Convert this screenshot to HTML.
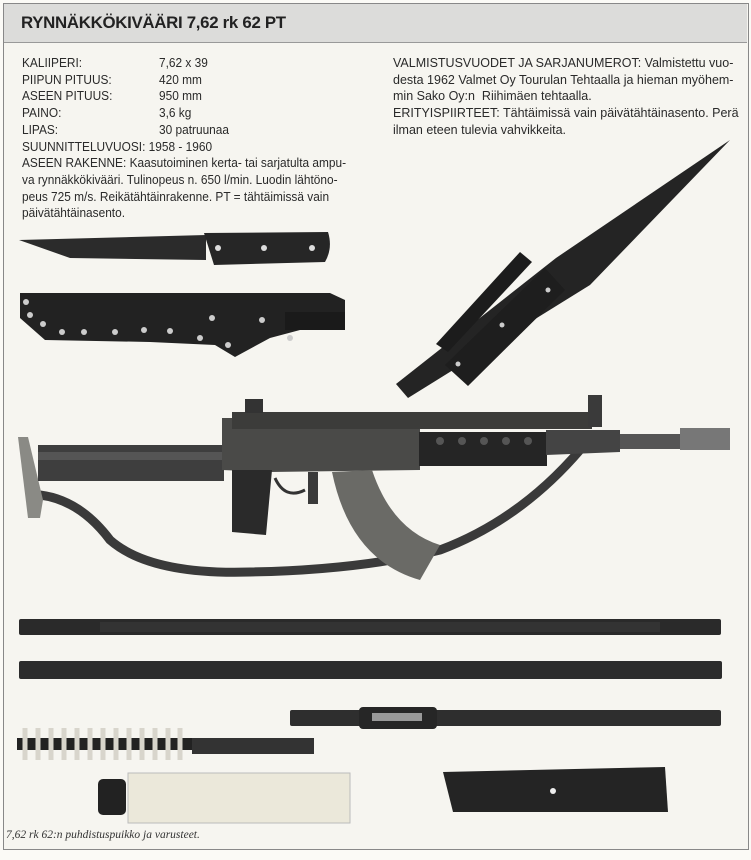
<!DOCTYPE html>
<html><head><meta charset="utf-8"><style>
html,body{margin:0;padding:0;background:#fbfaf6;}
body{width:751px;height:860px;position:relative;overflow:hidden;font-family:"Liberation Sans",sans-serif;color:#222;}
.frame{position:absolute;left:3px;top:3px;width:744px;height:845px;border:1px solid #888;background:#f6f5f0;}
.hdr{position:absolute;left:4px;top:4px;width:743px;height:38px;background:#dcdcda;border-bottom:1px solid #999;}
.hdr span{position:absolute;left:17px;top:9px;font-weight:bold;font-size:17px;letter-spacing:-0.3px;transform:scaleX(0.99);transform-origin:left;color:#222;white-space:nowrap;}
.t{position:absolute;font-size:12.5px;line-height:16.7px;white-space:nowrap;transform:scaleX(0.95);transform-origin:left top;color:#2a2a2a;}
.cap{position:absolute;left:6px;top:829px;font-family:"Liberation Serif",serif;font-style:italic;font-size:11.5px;color:#333;}
svg{position:absolute;left:0;top:0;}
</style></head><body>
<div class="frame"></div>
<div class="hdr"><span>RYNNÄKKÖKIVÄÄRI 7,62 rk 62 PT</span></div>
<div class="t" style="left:22px;top:55px;">KALIIPERI:<br>PIIPUN PITUUS:<br>ASEEN PITUUS:<br>PAINO:<br>LIPAS:<br>SUUNNITTELUVUOSI: 1958 - 1960<br>ASEEN RAKENNE: Kaasutoiminen kerta- tai sarjatulta ampu-<br>va rynnäkkökivääri. Tulinopeus n. 650 l/min. Luodin lähtöno-<br>peus 725 m/s. Reikätähtäinrakenne. PT = tähtäimissä vain<br>päivätähtäinasento.</div>
<div class="t" style="left:159px;top:55px;">7,62 x 39<br>420 mm<br>950 mm<br>3,6 kg<br>30 patruunaa</div>
<div class="t" style="left:393px;top:55px;transform:scaleX(1.0);">VALMISTUSVUODET JA SARJANUMEROT: Valmistettu vuo-<br>desta 1962 Valmet Oy Tourulan Tehtaalla ja hieman myöhem-<br>min Sako Oy:n&nbsp; Riihimäen tehtaalla.<br>ERITYISPIIRTEET: Tähtäimissä vain päivätähtäinasento. Perä<br>ilman eteen tulevia vahvikkeita.</div>
<svg width="751" height="860" viewBox="0 0 751 860">
<!-- knife -->
<path d="M19,240 L206,235 L206,260 L70,258 Z" fill="#2b2b2b"/>
<path d="M204,233 L328,232 Q333,248 325,262 L214,265 Z" fill="#262626"/>
<g fill="#ddd"><circle cx="218" cy="248" r="3"/><circle cx="264" cy="248" r="3"/><circle cx="312" cy="248" r="3"/></g>
<!-- sheath -->
<path d="M20,293 L330,293 L345,300 L345,330 L300,330 L270,338 L235,357 L215,345 L150,342 L45,340 L20,318 Z" fill="#222"/>
<path d="M285,312 L345,312 L345,330 L285,330 Z" fill="#1a1a1a"/>
<g fill="#ccc"><circle cx="26" cy="302" r="3"/><circle cx="30" cy="315" r="3"/><circle cx="43" cy="324" r="3"/><circle cx="62" cy="332" r="3"/><circle cx="84" cy="332" r="3"/><circle cx="115" cy="332" r="3"/><circle cx="144" cy="330" r="3"/><circle cx="170" cy="331" r="3"/><circle cx="200" cy="338" r="3"/><circle cx="228" cy="345" r="3"/><circle cx="212" cy="318" r="3"/><circle cx="262" cy="320" r="3"/><circle cx="290" cy="338" r="3"/></g>
<!-- bayonet -->
<path d="M730,140 L590,285 L408,398 L396,384 L556,258 Z" fill="#242424"/>
<path d="M520,252 L532,262 L448,352 L436,344 Z" fill="#1c1c1c"/>
<path d="M545,268 L565,290 L468,386 L445,365 Z" fill="#1e1e1e"/>
<g fill="#ccc"><circle cx="548" cy="290" r="2.5"/><circle cx="502" cy="325" r="2.5"/><circle cx="458" cy="364" r="2.5"/></g>
<!-- rifle sling -->
<path d="M40,495 Q80,500 110,540 Q150,575 250,572 Q360,570 440,550 Q520,520 580,450" fill="none" stroke="#3a3a3a" stroke-width="9"/>
<!-- stock -->
<path d="M18,437 L28,437 L43,500 L40,518 L28,518 Z" fill="#8a8a85"/>
<rect x="38" y="445" width="186" height="36" fill="#3e3e3e"/>
<rect x="38" y="452" width="186" height="8" fill="#555"/>
<!-- receiver -->
<path d="M222,418 L420,418 L420,470 L270,472 L222,470 Z" fill="#4a4a48"/>
<rect x="232" y="412" width="360" height="17" fill="#3c3c3a"/>
<rect x="245" y="399" width="18" height="14" fill="#333"/>
<rect x="588" y="395" width="14" height="32" fill="#3a3a3a"/>
<!-- handguard -->
<rect x="419" y="432" width="128" height="34" fill="#252525"/>
<g fill="#555"><circle cx="440" cy="441" r="4"/><circle cx="462" cy="441" r="4"/><circle cx="484" cy="441" r="4"/><circle cx="506" cy="441" r="4"/><circle cx="528" cy="441" r="4"/></g>
<!-- barrel -->
<path d="M546,430 L620,430 L620,452 L546,455 Z" fill="#444"/>
<rect x="620" y="434" width="62" height="15" fill="#555"/>
<rect x="680" y="428" width="50" height="22" fill="#777"/>
<!-- grip -->
<path d="M232,470 L272,470 L266,535 L232,532 Z" fill="#2a2a2a"/>
<path d="M275,478 Q285,500 305,490" fill="none" stroke="#333" stroke-width="3"/>
<rect x="308" y="472" width="10" height="32" fill="#3a3a3a"/>
<!-- magazine -->
<path d="M332,472 L372,470 Q392,530 440,545 L420,580 Q350,560 332,472 Z" fill="#6a6a66"/>
<!-- rods -->
<rect x="19" y="619" width="702" height="16" fill="#2a2a2a" rx="2"/>
<rect x="100" y="622" width="560" height="10" fill="#333"/>
<rect x="19" y="661" width="703" height="18" fill="#2c2c2c" rx="2"/>
<rect x="290" y="710" width="431" height="16" fill="#2e2e2e" rx="2"/>
<rect x="359" y="707" width="78" height="22" fill="#262626" rx="4"/>
<rect x="372" y="713" width="50" height="8" fill="#999"/>
<!-- brush -->
<rect x="17" y="738" width="175" height="12" fill="#222"/>
<g stroke="#d8d5cc" stroke-width="5">
<line x1="25" y1="728" x2="25" y2="760"/><line x1="38" y1="728" x2="38" y2="760"/><line x1="51" y1="728" x2="51" y2="760"/><line x1="64" y1="728" x2="64" y2="760"/><line x1="77" y1="728" x2="77" y2="760"/><line x1="90" y1="728" x2="90" y2="760"/><line x1="103" y1="728" x2="103" y2="760"/><line x1="116" y1="728" x2="116" y2="760"/><line x1="129" y1="728" x2="129" y2="760"/><line x1="142" y1="728" x2="142" y2="760"/><line x1="155" y1="728" x2="155" y2="760"/><line x1="168" y1="728" x2="168" y2="760"/><line x1="180" y1="728" x2="180" y2="760"/></g>
<rect x="192" y="738" width="122" height="16" fill="#333"/>
<!-- bottle -->
<rect x="128" y="773" width="222" height="50" fill="#ebe8da" stroke="#bbb"/>
<rect x="98" y="779" width="28" height="36" fill="#222" rx="5"/>
<!-- plate -->
<path d="M443,772 L665,767 L668,812 L453,812 Z" fill="#242424"/>
<circle cx="553" cy="791" r="3" fill="#eee"/>
</svg>
<div class="cap">7,62 rk 62:n puhdistuspuikko ja varusteet.</div>
</body></html>
